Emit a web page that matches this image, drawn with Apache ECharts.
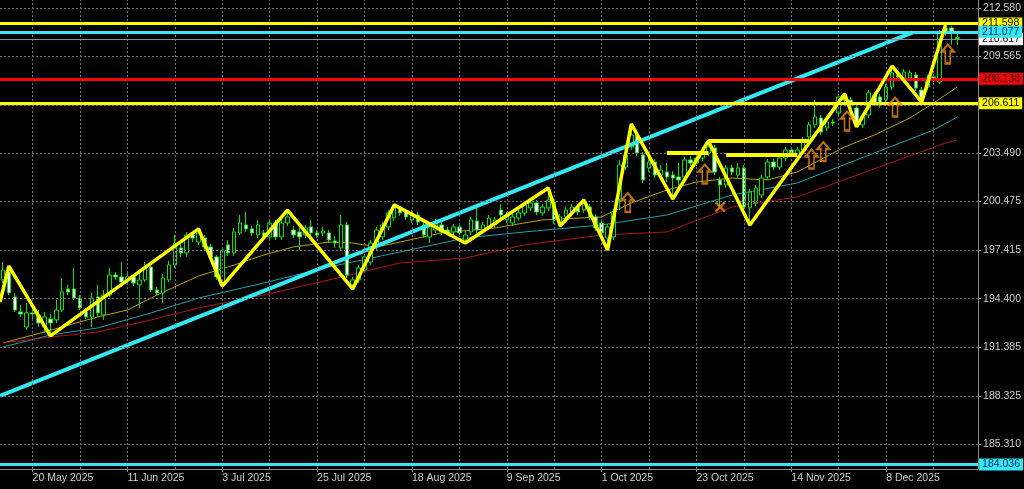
<!DOCTYPE html>
<html><head><meta charset="utf-8">
<script src="https://cdn.jsdelivr.net/npm/echarts@6/dist/echarts.min.js"></script>
<style>html,body{margin:0;padding:0;background:#000;}#c{width:1024px;height:489px;}</style>
</head><body><div id="c"></div>
<script>
// ---------- DATA ----------
const monthNames = ['Jan','Feb','Mar','Apr','May','Jun','Jul','Aug','Sep','Oct','Nov','Dec'];
// daily bars [open, close, low, high], weekdays from 13 May 2025
const ohlc = [
[195.57,196.19,195.38,196.69],[196.07,194.76,194.63,196.44],[194.51,193.69,193.57,194.76],[193.57,193.44,193.26,194.01],
[192.63,193.51,192.44,194.13],[193.51,193.44,193.07,194.01],[193.38,192.88,192.63,193.69],[192.63,193.26,192.26,193.57],
[193.13,192.88,192.07,193.44],[193.07,193.69,192.88,194.32],[193.69,194.82,193.57,195.69],[195.01,194.82,194.63,195.26],
[195.01,194.44,194.32,196.32],[194.44,193.82,193.69,194.63],[193.57,193.26,193.13,193.82],[193.26,194.44,192.63,194.76],
[194.51,193.51,193.26,195.26],[193.38,194.63,193.07,194.94],[194.63,195.88,194.51,196.32],[195.88,195.76,195.57,196.07],
[195.76,195.44,195.13,196.69],[195.57,195.76,195.38,196.07],[195.76,195.38,195.19,195.94],[195.26,195.57,193.82,196.07],
[195.57,196.38,195.44,196.69],[196.38,194.94,194.82,196.57],[194.94,194.76,194.57,195.13],[194.76,195.69,194.13,195.94],
[195.57,196.51,195.44,196.76],[196.51,197.88,196.32,198.38],[197.57,197.26,197.01,197.88],[197.26,198.38,197.01,198.57],
[198.38,198.19,197.94,198.57],[197.94,198.51,197.76,198.76],[198.19,197.63,197.44,198.38],[197.63,197.01,196.82,197.82],
[197.01,195.76,195.57,197.13],[195.44,197.44,195.19,197.63],[197.76,197.26,197.07,198.07],[197.26,198.57,197.07,198.82],
[198.51,199.13,198.38,199.63],[199.01,198.76,198.57,199.82],[198.76,198.51,198.32,198.94],[198.38,199.01,198.19,199.32],
[198.51,198.26,198.07,198.69],[198.26,199.13,198.07,199.38],[199.13,198.26,198.07,199.32],[198.26,199.13,198.07,199.51],
[199.13,199.51,198.94,199.94],[198.69,198.38,198.19,198.94],[198.57,198.26,197.44,198.82],[198.38,198.82,198.19,199.01],
[198.88,198.51,198.32,199.32],[198.51,198.38,198.19,198.69],[198.51,198.63,198.32,198.88],[198.51,198.07,197.88,198.69],
[198.01,197.88,197.57,198.32],[197.57,199.01,197.44,199.63],[199.01,195.88,195.69,199.19],[195.26,195.57,195.01,195.76],
[195.57,196.32,195.38,196.51],[196.19,197.01,196.01,197.19],[196.69,197.88,196.51,198.07],[197.63,198.69,197.44,198.88],
[198.26,199.01,198.07,199.19],[198.88,199.76,198.69,199.94],[199.44,200.13,199.26,200.26],[200.13,199.76,199.57,200.19],
[199.82,199.51,199.32,200.01],[199.32,199.76,199.13,199.94],[199.63,199.19,199.01,199.82],[199.01,198.38,198.19,199.19],
[198.26,198.88,197.88,199.07],[198.69,199.13,198.51,199.38],[199.01,198.57,198.38,199.19],[198.69,198.57,198.38,198.88],
[198.57,198.88,198.38,199.07],[198.88,198.51,198.26,199.07],[198.07,198.38,197.88,198.63],[198.57,199.32,198.38,199.51],
[199.26,198.69,198.51,200.26],[198.69,199.01,198.51,199.19],[198.88,199.44,198.69,199.63],[199.01,199.32,198.82,199.51],
[199.94,199.63,199.44,200.32],[199.32,199.63,199.13,199.82],[199.13,199.51,198.94,199.69],[199.44,199.76,199.26,199.94],
[199.76,200.26,199.57,200.44],[200.07,200.38,199.88,200.57],[200.38,199.82,199.63,200.57],[199.76,200.13,199.57,200.32],
[200.07,200.57,199.88,201.32],[200.44,199.32,199.07,200.63],[199.13,199.51,198.94,199.69],[199.51,199.94,199.32,200.13],
[199.76,200.13,199.57,200.32],[200.07,199.82,199.63,200.26],[199.94,200.38,199.76,200.57],[200.13,199.51,199.32,200.32],
[199.51,198.82,198.63,199.69],[199.13,198.51,198.07,199.32],[198.19,198.88,197.44,199.07],[198.26,199.82,198.07,200.01],
[200.63,202.76,199.94,203.07],[202.63,203.38,202.44,203.69],[203.88,204.63,203.69,205.32],[204.63,203.51,203.32,204.94],
[203.38,201.82,201.63,203.57],[202.57,202.94,202.32,203.19],[202.94,202.13,201.94,203.13],[202.13,202.44,201.82,202.76],
[202.32,202.01,201.69,202.88],[202.13,201.94,200.63,202.38],[202.01,201.82,201.44,202.88],[202.01,203.07,201.82,203.26],
[203.07,202.88,202.69,203.32],[202.88,203.19,202.69,203.38],[203.19,203.51,203.01,203.69],[203.51,203.88,203.32,204.26],
[203.82,202.32,202.13,204.01],[201.82,201.51,200.13,202.01],[201.51,202.57,201.32,202.76],[202.57,202.32,202.13,202.76],
[202.13,202.57,201.94,202.88],[202.57,200.13,199.94,202.76],[200.07,201.07,199.01,201.26],[200.38,201.32,200.19,201.51],
[200.88,201.94,200.69,202.13],[202.01,202.94,201.82,203.13],[202.94,202.63,202.44,203.13],[202.63,203.19,202.44,203.38],
[203.19,203.69,203.01,203.88],[203.69,203.51,203.32,203.88],[203.26,203.69,203.07,203.88],[203.69,204.32,203.51,204.51],
[204.51,205.26,204.32,205.44],[205.26,205.76,205.07,206.82],[205.69,204.82,204.63,205.88],[205.07,205.44,204.88,205.63],
[205.44,205.38,205.19,205.63],[206.01,207.01,205.82,207.19],[207.13,206.82,206.63,207.26],[206.82,206.63,206.44,207.01],
[206.32,205.38,205.13,206.51],[205.26,205.76,205.07,205.94],[205.88,207.26,205.69,207.44],[207.13,206.63,206.44,207.32],
[207.01,206.51,206.32,207.19],[206.82,207.63,206.63,207.82],[207.63,208.51,207.44,208.94],[208.51,208.26,208.07,208.69],
[208.19,208.57,208.01,208.76],[208.19,208.51,208.01,208.69],[208.38,207.57,207.38,208.57],[207.44,206.94,206.69,207.63],
[207.63,208.19,207.44,208.38],[208.26,208.19,207.94,208.44],[207.94,211.01,207.82,211.19],[211.32,211.01,210.82,211.51],
[211.32,211.01,210.26,211.44],[210.66,210.72,210.26,211.01]
];
// moving averages: [barIndex, price]
const maOlive = [[0,191.63],[7,192.32],[16,193.26],[21,193.69],[26,194.63],[33,195.82],[38,196.38],[44,197.13],[49,197.63],[55,197.94],[59,197.88],[63,197.63],[67,197.94],[74,198.51],[83,198.82],[91,199.32],[101,199.51],[106,200.38],[112,201.19],[117,201.69],[123,201.94],[129,201.82],[134,202.32],[142,203.88],[147,204.63],[153,205.69],[157,206.63],[161,207.63]];
const maTeal = [[0,191.38],[8,192.13],[16,192.57],[25,193.51],[33,194.44],[44,195.38],[55,196.38],[67,197.32],[78,198.19],[88,198.57],[101,199.01],[112,199.63],[123,200.88],[134,201.63],[144,203.07],[157,204.94],[161,205.75]];
const maRed = [[0,191.63],[8,192.00],[16,192.32],[25,193.07],[33,193.82],[44,194.63],[55,195.57],[67,196.63],[78,196.94],[88,197.76],[101,198.38],[112,198.57],[123,200.13],[134,200.76],[146,202.38],[159,204.13],[161,204.32]];
// zigzag swing points
const zigzag = [[-0.5,194.19],[1,196.44],[8,192.07],[33,198.76],[37,195.19],[48,199.94],[59,195.01],[66,200.26],[78,197.88],[92,201.32],[94,198.94],[98,200.57],[102,197.44],[106,205.32],[113,200.63],[119,204.26],[126,199.01],[142,207.20],[144,205.13],[150,208.94],[155,206.69],[159,211.51]];
// trend line end points
const trendLine = [[-0.5,188.32],[153.5,211.05]];
// short horizontal levels: [fromBar, toBar, price]
const levelSegments = [[112,119,203.51],[119,136,204.26],[122,134,203.38]];
// signal arrows [bar, price] and cross mark
const upArrows = [[105.4,200.41],[118.4,202.19],[136.4,203.13],[138.4,203.60],[142.4,205.50],[150.5,206.38],[159.4,209.69]];
const crossMarks = [[121,200.13]];
// horizontal price lines
const priceLines = [211.598, 210.617, 211.077, 208.138, 206.611, 184.036];
// y axis grid values and labels
const yGridValues = [185.310,188.325,191.385,194.400,197.415,200.475,203.490,206.505,209.565,212.580];
const yLabelValues = [185.310,188.325,191.385,194.400,197.415,200.475,203.490,209.565,212.580];

// ---------- BUILD ----------
function weekdayLabels(count){
  const out=[]; const d=new Date(Date.UTC(2025,4,13));
  while(out.length<count){
    const w=d.getUTCDay();
    if(w!==0&&w!==6) out.push(d.getUTCDate()+' '+monthNames[d.getUTCMonth()]+' '+d.getUTCFullYear());
    d.setUTCDate(d.getUTCDate()+1);
  }
  return out;
}
const categories = weekdayLabels(ohlc.length).concat(['','','']);
const N = categories.length;
const labelEvery = (i)=> i>=5 && (i-5)%16===0;
const xGrid = []; for(let i=5;i<N;i+=8) xGrid.push(i);

const lineStyles = {
  211.598:{color:'#ffff00',width:3,bg:'#ffff00',fg:'#000'},
  210.617:{color:'#8c8c8c',width:1,bg:'#ffffff',fg:'#000'},
  211.077:{color:'#33e8f2',width:3,bg:'#33e8f2',fg:'#0b2a66'},
  208.138:{color:'#ff0000',width:3,bg:'#ff0000',fg:'#1a0000'},
  206.611:{color:'#ffff00',width:3,bg:'#ffff00',fg:'#000'},
  184.036:{color:'#33e8f2',width:3,bg:'#33e8f2',fg:'#0b2a66'}
};
const FONT='Liberation Sans';

const chart = echarts.init(document.getElementById('c'));
chart.setOption({
  animation:false,
  backgroundColor:'#000',
  grid:{left:0,right:45,top:0,bottom:20,containLabel:false},
  xAxis:[
    {type:'category',data:categories,boundaryGap:true,
     axisLine:{onZero:false,lineStyle:{color:'#8a8a8a',width:1}},
     axisTick:{show:true,alignWithLabel:true,interval:(i)=>labelEvery(i),length:3,lineStyle:{color:'#8a8a8a'}},
     axisLabel:{interval:(i)=>labelEvery(i),align:'left',color:'#cfcfcf',fontFamily:FONT,fontSize:10.5,margin:4},
     splitLine:{show:false}},
    {type:'value',min:-0.5,max:N-0.5,show:false,axisLine:{onZero:false}}
  ],
  yAxis:{type:'value',position:'right',min:183.754,max:213.067,
    axisLine:{show:true,onZero:false,lineStyle:{color:'#8a8a8a'}},
    axisTick:{show:true,customValues:yGridValues,length:3,lineStyle:{color:'#8a8a8a'}},
    axisLabel:{customValues:yLabelValues,formatter:(v)=>v.toFixed(3),color:'#cfcfcf',fontFamily:FONT,fontSize:10.5,margin:5},
    splitLine:{show:false}},
  series:[
    {type:'line',xAxisIndex:1,data:[],silent:true,z:1,
     markLine:{silent:true,symbol:['none','none'],label:{show:false},animation:false,
       lineStyle:{color:'#707070',type:[2,2],width:1},
       data:yGridValues.map(v=>({yAxis:v})).concat(xGrid.map(v=>({xAxis:v})))}},
    {type:'line',xAxisIndex:1,data:maOlive,symbol:'none',z:2,lineStyle:{color:'#b8a400',width:1}},
    {type:'line',xAxisIndex:1,data:maTeal,symbol:'none',z:2,lineStyle:{color:'#1fa3a8',width:1}},
    {type:'line',xAxisIndex:1,data:maRed,symbol:'none',z:2,lineStyle:{color:'#b01414',width:1}},
    {type:'candlestick',xAxisIndex:0,data:ohlc,barWidth:4,z:3,
     itemStyle:{color:'#000000',color0:'#ffffff',borderColor:'#00e600',borderColor0:'#00e600',borderWidth:1}},
    {type:'line',xAxisIndex:1,data:trendLine,symbol:'none',z:4,lineStyle:{color:'#33e8f2',width:4}},
    {type:'line',xAxisIndex:1,data:[],silent:true,z:5,
     markLine:{silent:true,symbol:['none','none'],animation:false,
       data:priceLines.map(v=>{const s=lineStyles[v];return {yAxis:v,
         lineStyle:{color:s.color,width:s.width,type:'solid'},
         label:{show:true,position:'end',distance:1,formatter:v.toFixed(3),
           backgroundColor:s.bg,color:s.fg,fontFamily:FONT,fontSize:10.5,lineHeight:12,padding:[0,3,0,3]}};})}},
    {type:'line',xAxisIndex:1,data:[],silent:true,z:6,
     markLine:{silent:true,symbol:['none','none'],animation:false,label:{show:false},
       lineStyle:{color:'#ffff00',width:4,type:'solid'},
       data:levelSegments.map(s=>[{coord:[s[0],s[2]]},{coord:[s[1],s[2]]}])}},
    {type:'line',xAxisIndex:1,data:zigzag,symbol:'none',z:6,lineStyle:{color:'#ffff00',width:3.5}},
    {type:'scatter',xAxisIndex:1,data:upArrows,z:7,
     symbol:'path://M6,0 L12,7 L8.5,7 L8.5,19 L3.5,19 L3.5,7 L0,7 Z',symbolSize:[12,19],
     itemStyle:{color:'rgba(0,0,0,0)',borderColor:'#f08a12',borderWidth:2}},
    {type:'scatter',xAxisIndex:1,data:crossMarks,z:7,
     symbol:'path://M0,2 L2,0 L6,4 L10,0 L12,2 L8,6 L12,10 L10,12 L6,8 L2,12 L0,10 L4,6 Z',symbolSize:11,
     itemStyle:{color:'#f08a12'}}
  ]
});
</script></body></html>
